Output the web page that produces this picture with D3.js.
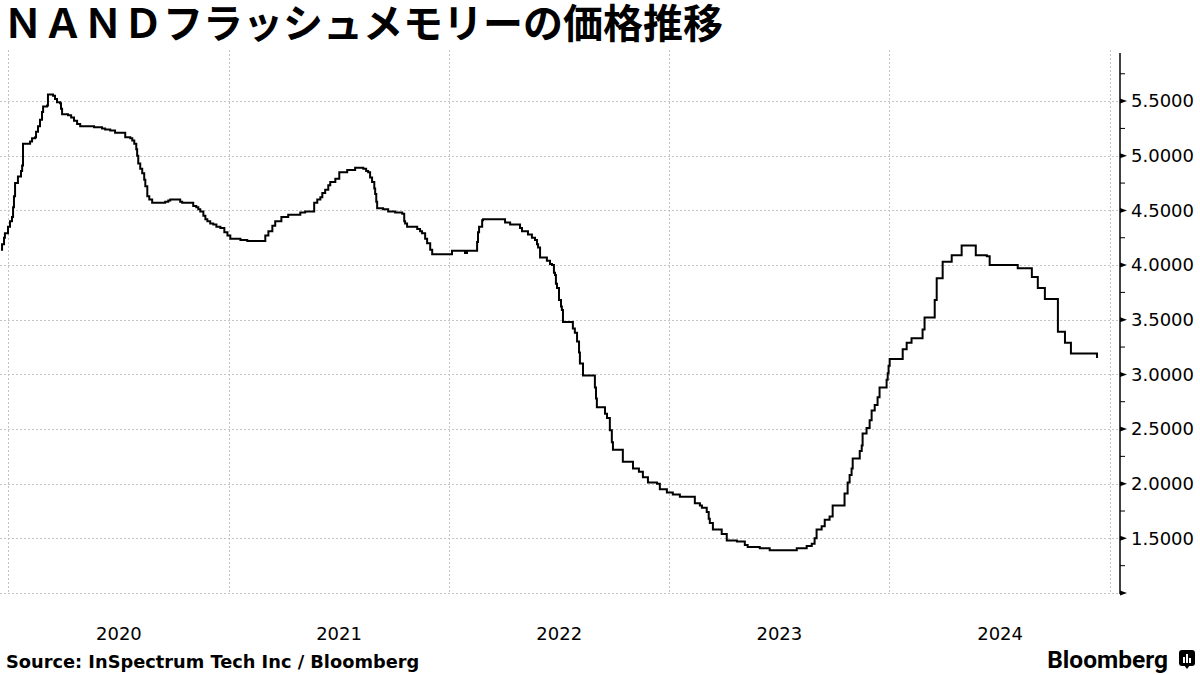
<!DOCTYPE html>
<html>
<head>
<meta charset="utf-8">
<script src="https://cdn.jsdelivr.net/npm/d3@7"></script>
<style>
  html, body { margin: 0; padding: 0; background: #ffffff; }
  #wrap { position: relative; width: 1200px; height: 675px; overflow: hidden; }
  svg { display: block; position: absolute; left: 0; top: 0; }
  #title {
    position: absolute; left: 3px; top: 1px; margin: 0; white-space: nowrap;
    font-family: 'Noto Sans CJK JP', 'Noto Sans', sans-serif;
    font-weight: 700; font-size: 40px; line-height: 40px; color: #000;
  }
</style>
</head>
<body>
<div id="wrap">
<svg id="chart" width="1200" height="675"></svg>
</div>
<script>
// ---- Data (decimal-year dates, price in USD) ----
const titleText = "ＮＡＮＤフラッシュメモリーの価格推移";
const sourceText = "Source: InSpectrum Tech Inc / Bloomberg";
const yearLabels = [2020, 2021, 2022, 2023, 2024];
const yTickValues = [1.0, 1.5, 2.0, 2.5, 3.0, 3.5, 4.0, 4.5, 5.0, 5.5];
const yMinorValues = [1.25, 1.75, 2.25, 2.75, 3.25, 3.75, 4.25, 4.75, 5.25, 5.75];

const dates = [
  2019.968, 2019.973, 2019.982, 2019.986, 2020.000, 2020.009, 2020.018, 2020.023, 2020.027, 2020.032,
  2020.045, 2020.059, 2020.064, 2020.068, 2020.100, 2020.109, 2020.123, 2020.127, 2020.136, 2020.145,
  2020.154, 2020.159, 2020.177, 2020.181, 2020.204, 2020.213, 2020.222, 2020.236, 2020.240, 2020.245,
  2020.272, 2020.286, 2020.299, 2020.313, 2020.327, 2020.390, 2020.426, 2020.440, 2020.463, 2020.485,
  2020.531, 2020.554, 2020.563, 2020.572, 2020.581, 2020.585, 2020.590, 2020.599, 2020.608, 2020.617,
  2020.622, 2020.631, 2020.640, 2020.653, 2020.712, 2020.726, 2020.735, 2020.780, 2020.789, 2020.839,
  2020.853, 2020.862, 2020.871, 2020.885, 2020.894, 2020.903, 2020.916, 2020.930, 2020.944, 2020.962,
  2020.980, 2020.994, 2021.007, 2021.053, 2021.084, 2021.166, 2021.180, 2021.198, 2021.211, 2021.239,
  2021.270, 2021.325, 2021.347, 2021.388, 2021.402, 2021.416, 2021.425, 2021.438, 2021.452, 2021.461,
  2021.484, 2021.502, 2021.538, 2021.574, 2021.611, 2021.624, 2021.633, 2021.642, 2021.651, 2021.661,
  2021.665, 2021.670, 2021.674, 2021.701, 2021.724, 2021.756, 2021.788, 2021.797, 2021.801, 2021.810,
  2021.856, 2021.869, 2021.878, 2021.892, 2021.901, 2021.915, 2021.924, 2022.014, 2022.073, 2022.082,
  2022.128, 2022.132, 2022.137, 2022.151, 2022.155, 2022.255, 2022.278, 2022.323, 2022.332, 2022.359,
  2022.377, 2022.391, 2022.400, 2022.405, 2022.414, 2022.445, 2022.459, 2022.468, 2022.477, 2022.482,
  2022.486, 2022.491, 2022.500, 2022.509, 2022.513, 2022.518, 2022.563, 2022.572, 2022.582, 2022.591,
  2022.595, 2022.609, 2022.663, 2022.668, 2022.672, 2022.709, 2022.718, 2022.731, 2022.740, 2022.745,
  2022.790, 2022.836, 2022.863, 2022.881, 2022.904, 2022.945, 2022.958, 2022.990, 2023.017, 2023.049,
  2023.117, 2023.140, 2023.149, 2023.171, 2023.180, 2023.185, 2023.199, 2023.239, 2023.262, 2023.308,
  2023.344, 2023.357, 2023.412, 2023.457, 2023.580, 2023.625, 2023.648, 2023.661, 2023.670, 2023.693,
  2023.707, 2023.729, 2023.743, 2023.797, 2023.811, 2023.820, 2023.829, 2023.834, 2023.866, 2023.875,
  2023.879, 2023.897, 2023.911, 2023.920, 2023.934, 2023.947, 2023.956, 2023.988, 2023.993, 2023.997,
  2024.002, 2024.061, 2024.079, 2024.101, 2024.151, 2024.160, 2024.206, 2024.215, 2024.242, 2024.283,
  2024.328, 2024.392, 2024.442, 2024.455, 2024.582, 2024.646, 2024.673, 2024.705, 2024.764, 2024.796,
  2024.823, 2024.941
];

const prices = [
  4.14, 4.19, 4.25, 4.29, 4.35, 4.40, 4.44, 4.53, 4.63, 4.75,
  4.81, 4.86, 4.91, 5.11, 5.13, 5.16, 5.17, 5.22, 5.27, 5.33,
  5.40, 5.45, 5.46, 5.56, 5.55, 5.52, 5.49, 5.48, 5.43, 5.38,
  5.37, 5.35, 5.32, 5.29, 5.27, 5.26, 5.25, 5.24, 5.23, 5.21,
  5.17, 5.16, 5.14, 5.11, 5.06, 5.00, 4.93, 4.88, 4.84, 4.78,
  4.72, 4.63, 4.60, 4.57, 4.58, 4.59, 4.60, 4.58, 4.57, 4.54,
  4.53, 4.51, 4.49, 4.45, 4.42, 4.40, 4.38, 4.37, 4.35, 4.34,
  4.30, 4.27, 4.24, 4.23, 4.22, 4.27, 4.31, 4.36, 4.40, 4.44,
  4.46, 4.48, 4.49, 4.57, 4.60, 4.62, 4.66, 4.69, 4.73, 4.76,
  4.79, 4.85, 4.87, 4.89, 4.88, 4.86, 4.85, 4.80, 4.76, 4.70,
  4.65, 4.58, 4.52, 4.51, 4.49, 4.48, 4.47, 4.40, 4.38, 4.35,
  4.33, 4.31, 4.29, 4.24, 4.20, 4.14, 4.10, 4.13, 4.11, 4.13,
  4.21, 4.30, 4.35, 4.41, 4.42, 4.39, 4.37, 4.34, 4.31, 4.28,
  4.25, 4.23, 4.19, 4.16, 4.07, 4.04, 4.01, 4.00, 3.93, 3.91,
  3.83, 3.79, 3.68, 3.62, 3.59, 3.48, 3.42, 3.38, 3.30, 3.20,
  3.10, 2.99, 2.88, 2.78, 2.70, 2.64, 2.60, 2.49, 2.38, 2.31,
  2.20, 2.14, 2.11, 2.06, 2.01, 2.00, 1.95, 1.92, 1.90, 1.88,
  1.82, 1.80, 1.78, 1.74, 1.68, 1.64, 1.58, 1.54, 1.48, 1.47,
  1.44, 1.42, 1.41, 1.39, 1.41, 1.43, 1.45, 1.50, 1.58, 1.61,
  1.67, 1.70, 1.80, 1.91, 2.01, 2.08, 2.14, 2.23, 2.30, 2.35,
  2.46, 2.51, 2.58, 2.67, 2.72, 2.79, 2.88, 2.95, 3.01, 3.08,
  3.14, 3.23, 3.29, 3.33, 3.41, 3.52, 3.68, 3.88, 4.03, 4.09,
  4.18, 4.09, 4.08, 4.00, 3.97, 3.89, 3.79, 3.69, 3.39, 3.29,
  3.19, 3.15
];

// ---- helpers ----
function yearToDate(t) {
  const y = Math.floor(t);
  const start = new Date(y, 0, 1), end = new Date(y + 1, 0, 1);
  return new Date(start.getTime() + (t - y) * (end - start));
}
const series = dates.map((t, i) => ({ date: yearToDate(t), value: prices[i] }));

// ---- layout ----
const svg = d3.select("#chart");
const plot = { left: 8, right: 1110, top: 53, bottom: 593, axisX: 1120, gridRight: 1118 };

const x = d3.scaleTime()
  .domain([new Date(2020, 0, 1), new Date(2025, 0, 1)])
  .range([plot.left, plot.right]);
const y = d3.scaleLinear()
  .domain([1.0, 5.94])
  .range([plot.bottom, plot.top]);

// title (HTML block so its line box stays inside the page)
d3.select("#wrap").append("div")
  .attr("id", "title")
  .text(titleText);

// horizontal grid
const grid = svg.append("g").attr("class", "grid");
grid.selectAll("line.h").data(yTickValues).join("line")
  .attr("class", "h")
  .attr("x1", 0).attr("x2", plot.gridRight)
  .attr("y1", d => Math.round(y(d)) + 0.5).attr("y2", d => Math.round(y(d)) + 0.5)
  .attr("stroke", "#c4c4c4").attr("stroke-width", 1).attr("stroke-dasharray", "2,2");

// vertical grid at year starts
const yearStarts = d3.range(2020, 2026).map(yv => new Date(yv, 0, 1));
grid.selectAll("line.v").data(yearStarts).join("line")
  .attr("class", "v")
  .attr("x1", d => Math.round(x(d)) + 0.5).attr("x2", d => Math.round(x(d)) + 0.5)
  .attr("y1", 50).attr("y2", plot.bottom)
  .attr("stroke", "#c4c4c4").attr("stroke-width", 1).attr("stroke-dasharray", "2,2");

// price line (step)
const line = d3.line()
  .x(d => x(d.date))
  .y(d => y(d.value))
  .curve(d3.curveStepAfter);
svg.append("path")
  .datum(series)
  .attr("d", line)
  .attr("fill", "none")
  .attr("stroke", "#000")
  .attr("stroke-width", 2)
  .attr("stroke-linejoin", "miter");

// right axis
const yAxis = d3.axisRight(y)
  .tickValues(yTickValues)
  .tickSize(0)
  .tickPadding(11)
  .tickFormat(d => d === 1.0 ? "" : d3.format(".4f")(d));
const yg = svg.append("g")
  .attr("transform", `translate(${plot.axisX},0)`)
  .call(yAxis);
yg.select(".domain").remove();
yg.selectAll("text")
  .attr("font-family", "'DejaVu Sans', Verdana, sans-serif")
  .attr("font-size", 18)
  .attr("fill", "#000");
// axis line
svg.append("line")
  .attr("x1", plot.axisX).attr("x2", plot.axisX)
  .attr("y1", plot.top).attr("y2", plot.bottom + 1)
  .attr("stroke", "#000").attr("stroke-width", 1.5);
// minor ticks
svg.selectAll("line.minor").data(yMinorValues).join("line")
  .attr("class", "minor")
  .attr("x1", plot.axisX).attr("x2", plot.axisX + 5)
  .attr("y1", d => y(d)).attr("y2", d => y(d))
  .attr("stroke", "#000").attr("stroke-width", 1);
// major tick wedges
svg.selectAll("path.major").data(yTickValues).join("path")
  .attr("class", "major")
  .attr("d", d => {
    const yy = y(d);
    return `M${plot.axisX},${yy - 2.5}L${plot.axisX + 7},${yy}L${plot.axisX},${yy + 2.5}Z`;
  })
  .attr("fill", "#000");

// bottom axis: year labels centred mid-year
const midYears = yearLabels.map(yv => new Date(yv, 6, 2));
const xAxis = d3.axisBottom(x)
  .tickValues(midYears)
  .tickSize(0)
  .tickPadding(34)
  .tickFormat(d3.timeFormat("%Y"));
const xg = svg.append("g")
  .attr("transform", `translate(0,${plot.bottom})`)
  .call(xAxis);
xg.select(".domain").remove();
xg.selectAll("text")
  .attr("font-family", "'DejaVu Sans', Verdana, sans-serif")
  .attr("font-size", 18)
  .attr("fill", "#000");

// source
svg.append("text")
  .attr("x", 6).attr("y", 668)
  .attr("font-family", "'DejaVu Sans', Verdana, sans-serif")
  .attr("font-weight", 700)
  .attr("font-size", 17.8)
  .attr("fill", "#000")
  .text(sourceText);

// Bloomberg logo
svg.append("text")
  .attr("x", 1168).attr("y", 668)
  .attr("text-anchor", "end")
  .attr("font-family", "Roboto, 'Liberation Sans', sans-serif")
  .attr("font-weight", 700)
  .attr("font-size", 24.5)
  .attr("fill", "#000")
  .text("Bloomberg");
const icon = svg.append("g").attr("transform", "translate(1179,650)");
icon.append("rect").attr("x", 0).attr("y", 0).attr("width", 16).attr("height", 16).attr("rx", 3).attr("fill", "#000");
icon.append("path").attr("d", "M5,15 L8,19 L11,15 Z").attr("fill", "#000");
icon.append("rect").attr("x", 4).attr("y", 7).attr("width", 2).attr("height", 6).attr("fill", "#fff");
icon.append("rect").attr("x", 7).attr("y", 4).attr("width", 2).attr("height", 9).attr("fill", "#fff");
icon.append("rect").attr("x", 10).attr("y", 8).attr("width", 2).attr("height", 5).attr("fill", "#fff");
</script>
</body>
</html>
